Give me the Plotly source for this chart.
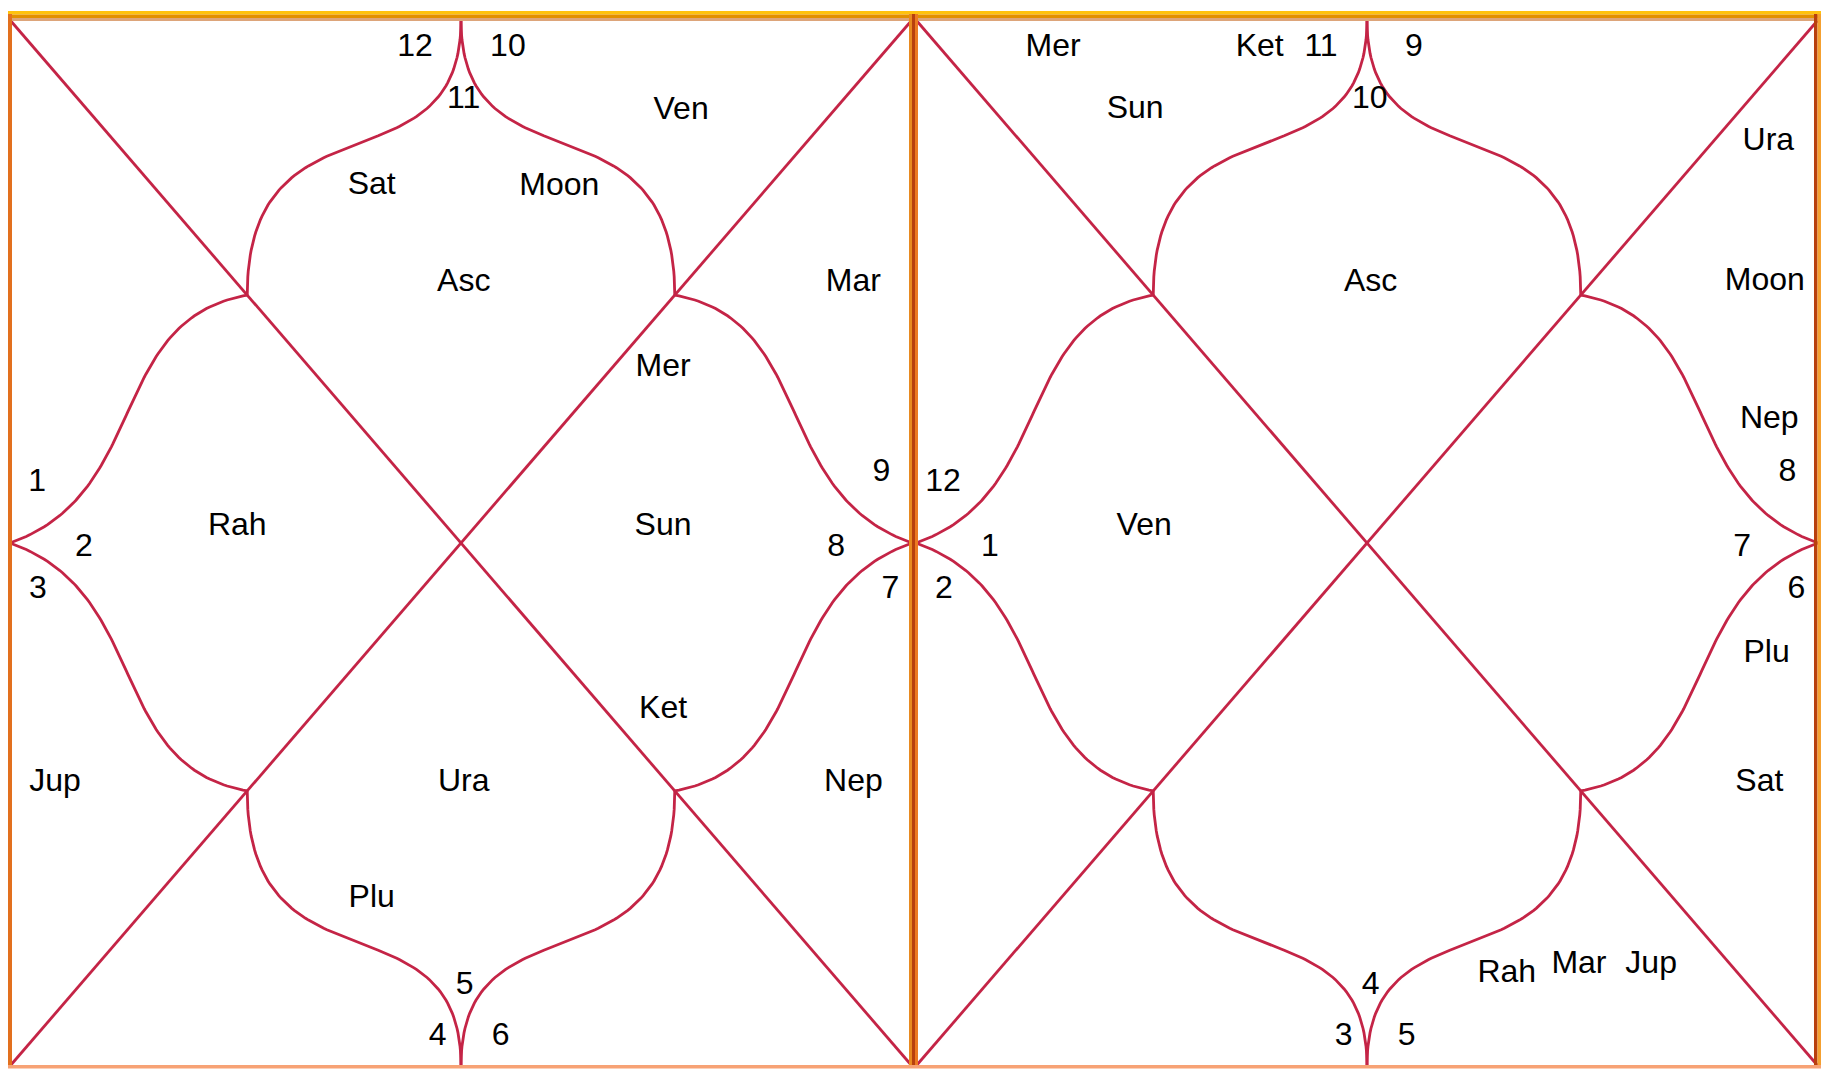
import numpy as np
import plotly.graph_objects as go

# ---------------- data ----------------
house_numbers = list(range(1, 13))
left_signs = [11, 12, 1, 2, 3, 4, 5, 6, 7, 8, 9, 10]
right_signs = [10, 11, 12, 1, 2, 3, 4, 5, 6, 7, 8, 9]

left_planets = ["Asc", "Sat", "Moon", "Ven", "Mar", "Mer", "Sun", "Ket",
                "Rah", "Jup", "Ura", "Nep", "Plu"]
right_planets = ["Mer", "Ket", "Sun", "Ura", "Asc", "Moon", "Nep", "Ven",
                 "Plu", "Sat", "Rah", "Mar", "Jup"]

# ---------------- layout (unit chart coordinates) ----------------
sign_slots = [(0.503, 0.073), (0.449, 0.023), (0.030, 0.439), (0.082, 0.501),
              (0.031, 0.542), (0.474, 0.969), (0.504, 0.920), (0.544, 0.969),
              (0.976, 0.542), (0.916, 0.501), (0.966, 0.430), (0.552, 0.023)]
left_planet_pos = [(0.503, 0.248), (0.401, 0.155), (0.609, 0.156), (0.744, 0.084),
                   (0.935, 0.248), (0.724, 0.329), (0.724, 0.481), (0.724, 0.656),
                   (0.252, 0.481), (0.050, 0.726), (0.503, 0.726), (0.935, 0.726),
                   (0.401, 0.837)]
right_planet_pos = [(0.152, 0.023), (0.381, 0.023), (0.243, 0.083), (0.945, 0.113),
                    (0.504, 0.248), (0.941, 0.247), (0.946, 0.379), (0.253, 0.481),
                    (0.943, 0.603), (0.935, 0.726), (0.655, 0.909), (0.735, 0.900),
                    (0.815, 0.900)]

FIG_W, FIG_H = 1823, 1069
CH_W, CH_H = 902, 1046
TOP = 20
TEXT_DY = 3.5
charts = [dict(x0=10, signs=left_signs, planets=left_planets, ppos=left_planet_pos),
          dict(x0=916, signs=right_signs, planets=right_planets, ppos=right_planet_pos)]

LINE_COL = "rgb(196,36,70)"
FONT = dict(family="Liberation Sans, Arial, sans-serif", size=32, color="black")

J = 0.263      # junction of curves on the diagonals
# apex -> junction curve control points (unit coords)
TOP_C1, TOP_C2 = (0.5, 0.169), (J, 0.062)
# side-mid -> junction curve control points
SIDE_C1, SIDE_C2 = (0.157, 0.453), (0.106, 0.287)


def bezier(p0, p1, p2, p3, n=100):
    t = np.linspace(0, 1, n)[:, None]
    p0, p1, p2, p3 = map(np.array, (p0, p1, p2, p3))
    pts = ((1 - t) ** 3) * p0 + 3 * ((1 - t) ** 2) * t * p1 + 3 * (1 - t) * t ** 2 * p2 + t ** 3 * p3
    return pts[:, 0], pts[:, 1]


base_curves = [((0.5, 0), TOP_C1, TOP_C2, (J, J)),
               ((0, 0.5), SIDE_C1, SIDE_C2, (J, J))]

curves = []
for c in base_curves:
    for fx in (False, True):
        for fy in (False, True):
            curves.append([((1 - p[0]) if fx else p[0], (1 - p[1]) if fy else p[1]) for p in c])

fig = go.Figure()

for ch in charts:
    x0 = ch["x0"]

    def X(u):
        return x0 + np.asarray(u) * CH_W

    def Y(v, dy=0.0):
        return TOP + np.asarray(v) * CH_H + dy

    for (u0, v0, u1, v1) in [(0, 0, 1, 1), (1, 0, 0, 1)]:
        fig.add_trace(go.Scatter(x=X([u0, u1]), y=Y([v0, v1]), mode="lines",
                                 line=dict(color=LINE_COL, width=2.8),
                                 hoverinfo="skip", showlegend=False))
    for c in curves:
        u, v = bezier(*c)
        fig.add_trace(go.Scatter(x=X(u), y=Y(v), mode="lines",
                                 line=dict(color=LINE_COL, width=2.8),
                                 hoverinfo="skip", showlegend=False))
    fig.add_trace(go.Scatter(x=X([s[0] for s in sign_slots]),
                             y=Y([s[1] for s in sign_slots], TEXT_DY),
                             mode="text", text=[str(s) for s in ch["signs"]],
                             textposition="middle center", textfont=FONT,
                             hoverinfo="skip", showlegend=False))
    fig.add_trace(go.Scatter(x=X([p[0] for p in ch["ppos"]]),
                             y=Y([p[1] for p in ch["ppos"]], TEXT_DY),
                             mode="text", text=ch["planets"],
                             textposition="middle center", textfont=FONT,
                             hoverinfo="skip", showlegend=False))

shapes = []
def rect(x0, y0, x1, y1, col):
    shapes.append(dict(type="rect", xref="x", yref="y", x0=x0, y0=y0, x1=x1, y1=y1,
                       fillcolor=col, line=dict(width=0), layer="above"))

rect(8, 11, 1821, 14.5, "#FFC20E")
rect(8, 14.5, 1821, 18, "#E39000")
rect(8, 18, 1821, 21, "#DDA57A")
rect(8, 14, 12, 1068, "#E2701E")
rect(909, 14, 912, 1068, "#E88A20")
rect(912, 14, 915, 1068, "#B8400E")
rect(915, 14, 918, 1068, "#EC7A22")
rect(1814, 14, 1817.5, 1068, "#B8400E")
rect(1817.5, 14, 1821, 1068, "#F4A030")
rect(8, 1065, 1821, 1068.5, "#F7A275")

fig.update_layout(
    width=FIG_W, height=FIG_H,
    margin=dict(l=0, r=0, t=0, b=0),
    paper_bgcolor="white", plot_bgcolor="white",
    xaxis=dict(range=[0, FIG_W], visible=False, fixedrange=True),
    yaxis=dict(range=[FIG_H, 0], visible=False, fixedrange=True),
    shapes=shapes,
    showlegend=False,
)

fig.write_html("out.html", config=dict(displayModeBar=False),
               post_script="document.body.style.margin='0';document.body.style.overflow='hidden';")
